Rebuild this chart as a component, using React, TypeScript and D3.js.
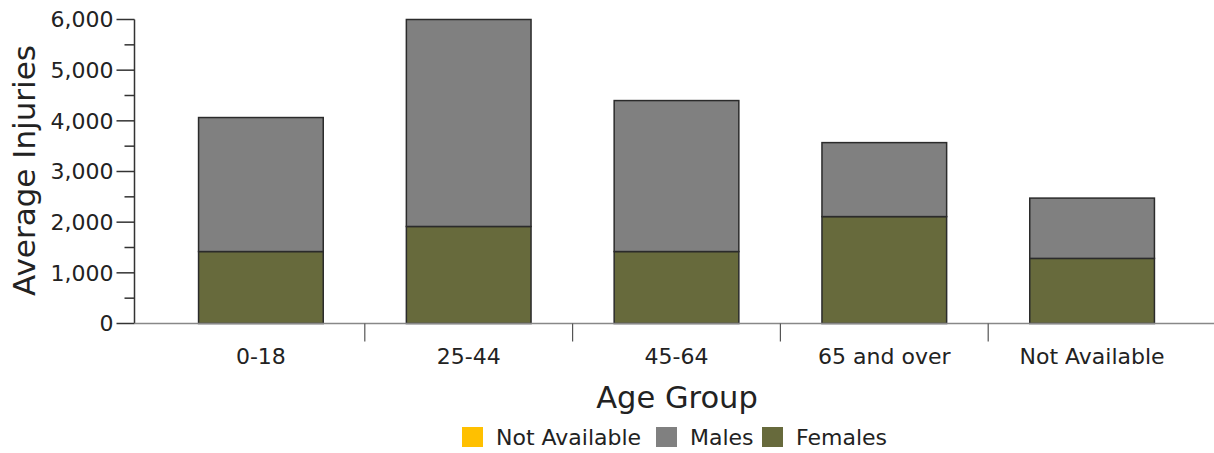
import React from "react";
import * as d3 from "d3";

const categories = ["0-18", "25-44", "45-64", "65 and over", "Not Available"];
const females = [1420, 1915, 1420, 2110, 1285];
const males = [2645, 4085, 2980, 1460, 1190];
const notAvailable = [0, 0, 0, 0, 0];
const yTicks = [0, 1000, 2000, 3000, 4000, 5000, 6000];
const yMinorTicks = [500, 1500, 2500, 3500, 4500, 5500];
const legendItems = [
  { label: "Not Available", color: "#FFC000" },
  { label: "Males", color: "#808080" },
  { label: "Females", color: "#676a3c" },
];

const W = 1214;
const H = 453;
const FONT = "'DejaVu Sans', Verdana, sans-serif";

export default function App() {
  const axisX = 134.5;
  const y = d3.scaleLinear().domain([0, 6000]).range([323.5, 19.5]);
  const x = d3.scaleBand<string>().domain(categories).range([157, 1196]).paddingInner(0).paddingOuter(0);
  const barW = x.bandwidth() * 0.6;
  const fmt = d3.format(",");

  const rows = categories.map((c, i) => {
    const stack = [
      { key: "Females", v: females[i], color: "#676a3c" },
      { key: "Males", v: males[i], color: "#808080" },
      { key: "Not Available", v: notAvailable[i], color: "#FFC000" },
    ];
    let acc = 0;
    return stack.map((s) => {
      const y0 = acc;
      acc += s.v;
      return { ...s, y0, y1: acc, cat: c };
    });
  });

  const legendX = [462, 656, 762];

  return (
    <svg width={W} height={H} style={{ position: "absolute", left: 0, top: 0, background: "#fff" }}>
      {/* bars */}
      {rows.map((segs, i) =>
        segs
          .filter((s) => s.v > 0)
          .map((s) => (
            <rect
              key={i + s.key}
              x={(x(s.cat) as number) + (x.bandwidth() - barW) / 2}
              y={y(s.y1)}
              width={barW}
              height={y(s.y0) - y(s.y1)}
              fill={s.color}
              stroke="#2b2b2b"
              strokeWidth={1.5}
            />
          ))
      )}
      {/* y axis */}
      <line x1={axisX} x2={axisX} y1={y(6000)} y2={y(0)} stroke="#333" strokeWidth={1.5} />
      {yTicks.map((t) => (
        <g key={t}>
          <line x1={axisX - 18} x2={axisX} y1={y(t)} y2={y(t)} stroke="#333" strokeWidth={1.5} />
          <text x={axisX - 21} y={y(t)} dy="0.36em" textAnchor="end" fontFamily={FONT} fontSize={22} fill="#222">
            {fmt(t)}
          </text>
        </g>
      ))}
      {yMinorTicks.map((t) => (
        <line key={t} x1={axisX - 10} x2={axisX} y1={y(t)} y2={y(t)} stroke="#333" strokeWidth={1.5} />
      ))}
      {/* x axis */}
      <line x1={axisX} x2={1214} y1={y(0)} y2={y(0)} stroke="#888" strokeWidth={1.5} />
      {categories.slice(1).map((c) => (
        <line key={c} x1={x(c) as number} x2={x(c) as number} y1={y(0)} y2={y(0) + 18} stroke="#555" strokeWidth={1.2} />
      ))}
      {categories.map((c) => (
        <text
          key={c}
          x={(x(c) as number) + x.bandwidth() / 2}
          y={364}
          textAnchor="middle"
          fontFamily={FONT}
          fontSize={22}
          fill="#222"
        >
          {c}
        </text>
      ))}
      {/* axis titles */}
      <text x={677} y={408} textAnchor="middle" fontFamily={FONT} fontSize={30.5} fill="#222">
        Age Group
      </text>
      <text
        transform={`translate(35, ${(y(0) + y(6000)) / 2 - 1}) rotate(-90)`}
        textAnchor="middle"
        fontFamily={FONT}
        fontSize={31}
        fill="#222"
      >
        Average Injuries
      </text>
      {/* legend */}
      {legendItems.map((it, i) => (
        <g key={it.label}>
          <rect x={legendX[i]} y={427} width={21} height={20} fill={it.color} />
          <text x={legendX[i] + 34} y={445} fontFamily={FONT} fontSize={22} fill="#222">
            {it.label}
          </text>
        </g>
      ))}
    </svg>
  );
}
